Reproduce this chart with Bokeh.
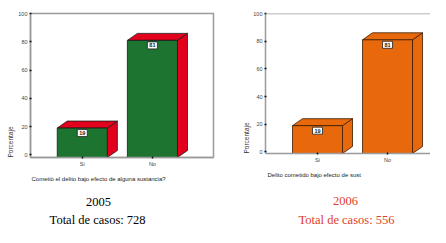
import math
from bokeh.plotting import figure
from bokeh.models import Range1d, FixedTicker, Label, ColumnDataSource, Span, Title
from bokeh.core.properties import value
from bokeh.layouts import row, column
from bokeh.embed import file_html
from bokeh.resources import INLINE

# ---- data ----
categories = ["Si", "No"]
pct_2005 = [19, 81]
pct_2006 = [19, 81]
y_ticks = [0, 20, 40, 60, 80, 100]
xtitle_2005 = "Cometió el delito bajo efecto de alguna sustancia?"
xtitle_2006 = "Delito cometido bajo efectu de sust"
ytitle = "Porcentaje"
year_2005 = "2005"
year_2006 = "2006"
total_2005 = "Total de casos: 728"
total_2006 = "Total de casos: 556"

SANS = "Liberation Sans"
SERIF = "Liberation Serif"
CHART_H = 170
TEXT_H = 57


def make_chart(values, cfg):
    p = figure(width=cfg["w"], height=CHART_H,
               x_range=Range1d(*cfg["xr"]), y_range=Range1d(*cfg["yr"]),
               output_backend="svg", toolbar_location=None,
               min_border_left=cfg["mbl"], min_border_right=cfg["mbr"],
               min_border_top=13, min_border_bottom=cfg["mbb"])
    p.xgrid.visible = False
    p.ygrid.visible = False
    p.background_fill_color = "white"
    p.border_fill_color = "white"
    if cfg["outline"]:
        p.outline_line_color = "#9a9a9a"
        p.outline_line_width = 1.5
    else:
        p.outline_line_color = None
        p.add_layout(Span(location=cfg["yr"][1], dimension="width",
                          line_color="#9a9a9a", line_width=1.5))

    fl, fr, ft, fb = cfg["frame"]
    x0, x1 = cfg["xr"]
    y0, y1 = cfg["yr"]
    ppx = (fr - fl) / (x1 - x0)
    ppy = (fb - ft) / (y1 - y0)

    bw = 50 / ppx
    dx = 10 / ppx
    dy = 7 / ppy
    base = y0

    xs = [i + 1 for i in range(len(categories))]
    left = [x - bw / 2 for x in xs]
    right = [x + bw / 2 for x in xs]

    top_xs = [[l, r, r + dx, l + dx] for l, r in zip(left, right)]
    top_ys = [[v, v, v + dy, v + dy] for v in values]
    side_xs = [[r, r + dx, r + dx, r] for r in right]
    side_ys = [[base, base + dy, v + dy, v] for v in values]

    p.patches(side_xs, side_ys, fill_color=cfg["side"], line_color=cfg["edge"], line_width=0.8)
    p.patches(top_xs, top_ys, fill_color=cfg["top"], line_color=cfg["edge"], line_width=0.8)
    p.quad(left=left, right=right, bottom=[base] * len(values), top=values,
           fill_color=cfg["front"], line_color=cfg["edge"], line_width=0.8)

    lab_y = [v - 5 / ppy for v in values]
    src = ColumnDataSource(dict(x=xs, y=lab_y, t=[str(v) for v in values]))
    p.rect(x="x", y="y", width=10, height=7, width_units="screen", height_units="screen",
           source=src, fill_color="white", line_color="#222222", line_width=0.8)
    p.text(x="x", y="y", text="t", source=src, text_align="center", text_baseline="middle",
           text_font=value(SANS), text_font_size="5.5px", text_font_style="bold",
           text_color="#222222")

    p.yaxis.ticker = FixedTicker(ticks=y_ticks)
    p.xaxis.ticker = FixedTicker(ticks=xs)
    p.xaxis.major_label_overrides = {x: c for x, c in zip(xs, categories)}
    for ax in (p.xaxis, p.yaxis):
        ax.axis_line_color = "#9a9a9a"
        ax.axis_line_width = 1.5
        ax.major_tick_line_color = "#111111"
        ax.major_tick_line_width = 1.5
        ax.major_tick_in = 1
        ax.major_tick_out = 1
        ax.minor_tick_line_color = None
        ax.major_label_text_font = SANS
        ax.major_label_text_font_size = "5.5px"
        ax.major_label_text_color = "#444444"
        ax.major_label_standoff = 2

    p.add_layout(Title(text=ytitle, align="left", standoff=cfg["ystand"],
                       text_font=SANS, text_font_size="6.5px", text_font_style="normal",
                       text_color="#333333"), "left")
    return p


def make_text(cfg):
    # the column aligns this frame with the chart frame, so map range to those pixels
    fl, fr = cfg["frame"][0], cfg["frame"][1]
    t = figure(width=cfg["w"], height=TEXT_H, x_range=Range1d(fl, fr), y_range=Range1d(TEXT_H, 0),
               output_backend="svg", toolbar_location=None,
               x_axis_location=None, y_axis_location=None,
               min_border=0)
    t.xgrid.visible = False
    t.ygrid.visible = False
    t.outline_line_color = None
    t.background_fill_color = "white"
    t.border_fill_color = "white"
    tx, ty = cfg["xtitle_pos"]
    t.add_layout(Label(x=tx, y=ty, text=cfg["xtitle"], text_align="left", text_baseline="middle",
                       text_font=SANS, text_font_size="6px", text_color="#222222"))
    tx, ty = cfg["year_pos"]
    t.add_layout(Label(x=tx, y=ty, text=cfg["year"], text_align="center", text_baseline="middle",
                       text_font=SERIF, text_font_size="12.5px", text_color=cfg["tcolor"]))
    tx, ty = cfg["total_pos"]
    t.add_layout(Label(x=tx, y=ty, text=cfg["total"], text_align="center", text_baseline="middle",
                       text_font=SERIF, text_font_size="12.5px", text_color=cfg["tcolor"]))
    return t


cfg_2005 = dict(
    w=223, mbl=30, mbr=10, mbb=13, ystand=4,
    frame=(30, 212.7, 13, 157),
    xr=(0.2614, 2.8714), yr=(-1.8, 100),
    outline=True,
    front="#1d7431", top="#e2001c", side="#e2001c", edge="#1a1a1a",
    xtitle=xtitle_2005, year=year_2005, total=total_2005, tcolor="#000000",
    xtitle_pos=(31, 8), year_pos=(98, 31), total_pos=(97, 49),
)
cfg_2006 = dict(
    w=207, mbl=42, mbr=0, mbb=17, ystand=2,
    frame=(42, 207, 13, 153),
    xr=(0.257, 2.614), yr=(-1.1, 100),
    outline=False,
    front="#e8680c", top="#e8680c", side="#e8680c", edge="#3a1c05",
    xtitle=xtitle_2006, year=year_2006, total=total_2006, tcolor="#e0402a",
    xtitle_pos=(44, 4), year_pos=(122, 30), total_pos=(123, 49),
)

p1 = make_chart(pct_2005, cfg_2005)
p2 = make_chart(pct_2006, cfg_2006)
t1 = make_text(cfg_2005)
t2 = make_text(cfg_2006)
layout = row(column(p1, t1), column(p2, t2))

open("out.html", "w").write(file_html(layout, INLINE))
